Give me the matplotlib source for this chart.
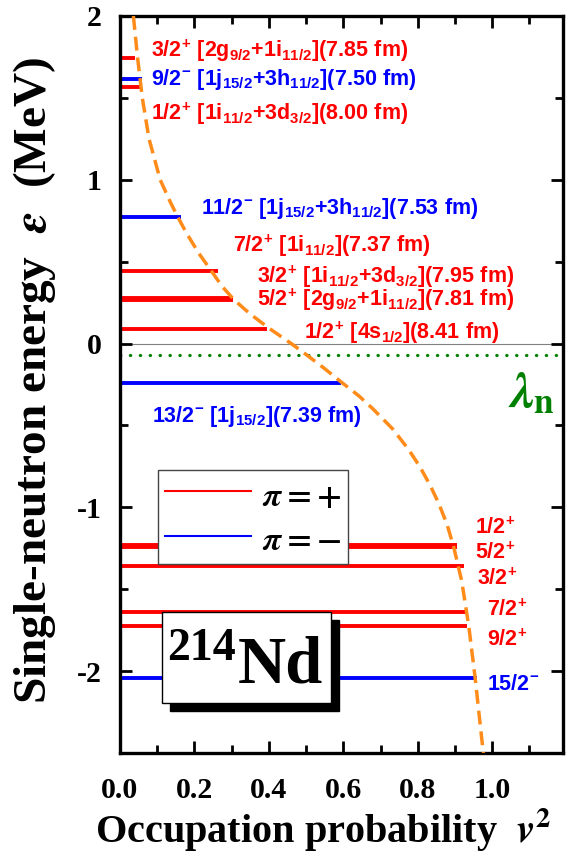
import matplotlib
matplotlib.use('Agg')
import matplotlib.pyplot as plt
from matplotlib.patches import Rectangle
from matplotlib.lines import Line2D
from matplotlib.ticker import MultipleLocator, FormatStrFormatter

RED    = '#FF0000'
BLUE   = '#0000FF'
ORANGE = '#FF8C1A'
GREEN  = '#008000'
SERIF  = 'Liberation Serif'

plt.rcParams.update({
    'font.family': SERIF,
    'font.weight': 'bold',
    'axes.unicode_minus': False,
    'mathtext.fontset': 'custom',
    'mathtext.rm': 'Liberation Sans:bold',
    'mathtext.bf': 'Liberation Sans:bold',
    'mathtext.it': 'Liberation Sans:bold',
    'mathtext.sf': 'Liberation Sans:bold',
})

# ── Data: single-neutron levels (energy in MeV, occupation v^2, parity) ──
level_e      = [1.744, 1.616, 1.567, 0.774, 0.445, 0.281, 0.267, 0.091, -0.238,
                -1.231, -1.245, -1.360, -1.640, -1.726, -2.040]
level_v2     = [0.040, 0.060, 0.054, 0.164, 0.263, 0.304, 0.304, 0.395, 0.594,
                0.906, 0.906, 0.925, 0.933, 0.933, 0.960]
level_parity = ['+', '-', '+', '-', '+', '+', '+', '+', '-',
                '+', '+', '+', '+', '+', '-']

# occupation curve
curve_e  = [2.00, 1.75, 1.50, 1.25, 1.00, 0.86, 0.774, 0.677, 0.55, 0.445,
            0.35, 0.268, 0.18, 0.091, 0.00, -0.067, -0.15, -0.238, -0.32, -0.40,
            -0.52, -0.646, -0.75, -0.86, -0.97, -1.10, -1.238, -1.45, -1.726,
            -2.04, -2.25, -2.50]
curve_v2 = [0.036, 0.047, 0.060, 0.078, 0.108, 0.136, 0.155, 0.178, 0.212, 0.245,
            0.274, 0.306, 0.350, 0.402, 0.460, 0.500, 0.548, 0.596, 0.642, 0.680,
            0.732, 0.775, 0.805, 0.832, 0.855, 0.878, 0.896, 0.918, 0.937,
            0.954, 0.964, 0.976]

fermi_level = -0.067

# ── Labels: (text, v2, energy, color) ──
labels = [
    (r'$\mathbf{3/2^{+}\ [2g_{9/2}{+}1i_{11/2}](7.85\ fm)}$',  0.083, 1.750, RED),
    (r'$\mathbf{9/2^{-}\ [1j_{15/2}{+}3h_{11/2}](7.50\ fm)}$', 0.083, 1.579, BLUE),
    (r'$\mathbf{1/2^{+}\ [1i_{11/2}{+}3d_{3/2}](8.00\ fm)}$',  0.083, 1.366, RED),
    (r'$\mathbf{11/2^{-}\ [1j_{15/2}{+}3h_{11/2}](7.53\ fm)}$', 0.218, 0.793, BLUE),
    (r'$\mathbf{7/2^{+}\ [1i_{11/2}](7.37\ fm)}$',              0.304, 0.561, RED),
    (r'$\mathbf{3/2^{+}\ [1i_{11/2}{+}3d_{3/2}](7.95\ fm)}$',  0.368, 0.372, RED),
    (r'$\mathbf{5/2^{+}\ [2g_{9/2}{+}1i_{11/2}](7.81\ fm)}$',  0.368, 0.232, RED),
    (r'$\mathbf{1/2^{+}\ [4s_{1/2}](8.41\ fm)}$',               0.495, 0.030, RED),
    (r'$\mathbf{13/2^{-}\ [1j_{15/2}](7.39\ fm)}$',             0.086, -0.476, BLUE),
    (r'$\mathbf{1/2^{+}}$',  0.954, -1.165, RED),
    (r'$\mathbf{5/2^{+}}$',  0.954, -1.317, RED),
    (r'$\mathbf{3/2^{+}}$',  0.960, -1.476, RED),
    (r'$\mathbf{7/2^{+}}$',  0.987, -1.665, RED),
    (r'$\mathbf{9/2^{+}}$',  0.987, -1.848, RED),
    (r'$\mathbf{15/2^{-}}$', 0.987, -2.116, BLUE),
]

fig = plt.figure(figsize=(5.73, 8.6), dpi=100)
ax = fig.add_axes([0.2094, 0.1244, 0.7731, 0.857])

# levels
for e, v2, p in zip(level_e, level_v2, level_parity):
    ax.plot([0, v2], [e, e], color=RED if p == '+' else BLUE, lw=2.8,
            solid_capstyle='butt', zorder=2)

ax.axhline(0, color='#808080', lw=0.8, zorder=1)
ax.axhline(fermi_level, color=GREEN, lw=2.3, ls=(0, (0.1, 3.0)),
           dash_capstyle='round', zorder=2)
ax.plot(curve_v2, curve_e, color=ORANGE, lw=2.5, ls=(0, (4, 2)), zorder=3)

for txt, x, y, c in labels:
    ax.text(x, y, txt, color=c, fontsize=15.5, ha='left', va='baseline', zorder=4)

ax.text(1.043, -0.39, r'$\lambda_{\mathbf{n}}$', color=GREEN, fontsize=36,
        math_fontfamily='stix', ha='left', va='baseline')

# legend
handles = [Line2D([], [], color=RED, lw=1.5), Line2D([], [], color=BLUE, lw=1.5)]
leg = ax.legend(handles, [r'$\pi = +$', r'$\pi = {-}$'], loc='upper left',
                bbox_to_anchor=(0.086, 0.384), borderaxespad=0,
                prop={'family': SERIF, 'size': 24, 'math_fontfamily': 'stix'},
                handlelength=2.6, handleheight=1.3, handletextpad=0.33,
                labelspacing=0.24, borderpad=0.2, fancybox=False, framealpha=1,
                edgecolor='#444444')
leg.get_frame().set_linewidth(1.0)
leg.set_zorder(5)

# nucleus box with shadow
bx, by, bw, bh = 0.0948, 0.0678, 0.381, 0.123
ax.add_patch(Rectangle((bx + 0.018, by - 0.011), bw, bh, transform=ax.transAxes,
                       facecolor='black', edgecolor='black', zorder=5))
ax.add_patch(Rectangle((bx, by), bw, bh, transform=ax.transAxes,
                       facecolor='white', edgecolor='black', lw=1, zorder=6))
ax.text(0.106, 0.126, '214', transform=ax.transAxes, fontsize=33,
        fontweight='bold', ha='left', va='baseline', zorder=7)
ax.text(0.266, 0.095, 'Nd', transform=ax.transAxes, fontsize=48,
        fontweight='bold', ha='left', va='baseline', zorder=7)

ax.set_xlim(0, 1.19)
ax.set_ylim(-2.5, 2.0)
ax.xaxis.set_major_locator(MultipleLocator(0.2))
ax.xaxis.set_minor_locator(MultipleLocator(0.1))
ax.yaxis.set_major_locator(MultipleLocator(1))
ax.yaxis.set_minor_locator(MultipleLocator(0.5))
ax.xaxis.set_major_formatter(FormatStrFormatter('%.1f'))
ax.yaxis.set_major_formatter(FormatStrFormatter('%d'))

ax.tick_params(which='both', direction='in', top=True, right=True, width=2)
ax.tick_params(which='major', length=8.5)
ax.tick_params(which='minor', length=5.5)
ax.tick_params(axis='x', which='major', pad=17, labelsize=21.5)
ax.tick_params(axis='y', which='major', pad=13, labelsize=21.5)
for s in ax.spines.values():
    s.set_linewidth(2.4)

ax.set_xlabel(r'Occupation probability  $\boldsymbol{v}^{\mathbf{2}}$', fontsize=29,
              fontweight='bold', math_fontfamily='stix')
ax.set_ylabel(r'Single-neutron energy  $\varepsilon$  (MeV)', fontsize=34,
              fontweight='bold', math_fontfamily='stix')
ax.xaxis.set_label_coords(0.458, -0.072)
ax.yaxis.set_label_coords(-0.14, 0.505)

fig.savefig('out.png', dpi=100)
